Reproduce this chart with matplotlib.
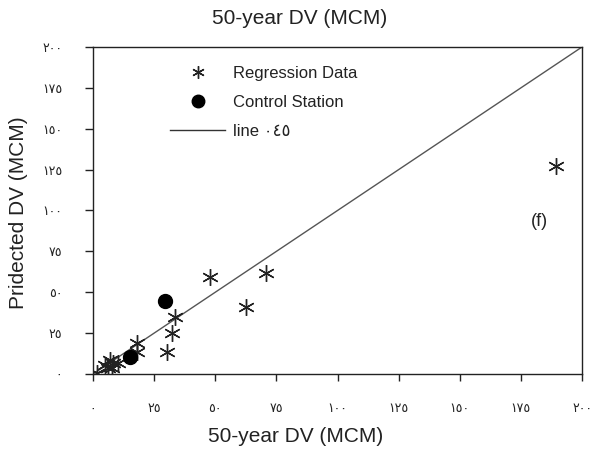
import matplotlib
matplotlib.use("Agg")
import matplotlib.pyplot as plt
from matplotlib.lines import Line2D

# ---- data ----
reg_x = [1.5, 4.9, 6.2, 6.9, 7.8, 8.3, 10.3, 17.8, 18.2, 30.1, 32.4, 33.5, 47.8, 62.7, 70.9, 189.5]
reg_y = [0.4, 5.5, 3.5, 8.6, 3.7, 6.5, 6.5, 13.6, 18.8, 13.6, 24.9, 35.0, 59.5, 40.8, 62.0, 127.2]
ctrl_x = [15.1, 29.4]
ctrl_y = [10.6, 44.8]
line_x = [0, 200]
line_y = [0, 200]
tick_vals = [0, 25, 50, 75, 100, 125, 150, 175, 200]
tick_labels = ["٠", "٢٥", "٥٠", "٧٥", "١٠٠", "١٢٥", "١٥٠", "١٧٥", "٢٠٠"]

plt.rcParams['font.family'] = ['Liberation Sans', 'DejaVu Sans']

fig = plt.figure(figsize=(5.93, 4.51), dpi=100)
ax = fig.add_axes([93/593, 1-374/451, (582-93)/593, (374-47)/451])

ax.plot(line_x, line_y, color='#555555', lw=1.0, zorder=2)
ax.plot(reg_x, reg_y, ls='none', marker=(6, 2, 0), ms=12, mew=1.0,
        color='#222222', zorder=3)
ax.plot(ctrl_x, ctrl_y, ls='none', marker='o', ms=10, color='black', zorder=4)

ax.set_xlim(0, 200)
ax.set_ylim(0, 200)
ax.set_xticks(tick_vals)
ax.set_xticklabels(tick_labels, family=['DejaVu Sans'], fontsize=9)
ax.set_yticks(tick_vals)
ax.set_yticklabels(tick_labels, family=['DejaVu Sans'], fontsize=9)
ax.tick_params(axis='x', direction='out', length=5, width=1, pad=15.5, colors='#222222')
ax.tick_params(axis='y', direction='out', length=6, width=1, pad=16, colors='#222222')
for s in ax.spines.values():
    s.set_linewidth(1.0)
    s.set_color('#222222')

ax.text(182.5, 93, '(f)', fontsize=13, ha='center', va='center', color='#222222')

handles = [
    Line2D([], [], ls='none', marker=(6, 2, 0), ms=9, mew=1.0, color='#222222'),
    Line2D([], [], ls='none', marker='o', ms=9, color='black'),
    Line2D([], [], color='#333333', lw=1.0),
]
labels = ['Regression Data', 'Control Station', 'line ٠٤٥']
leg = ax.legend(handles, labels, loc='upper left',
                bbox_to_anchor=((170-93)/489, (374-66)/327),
                frameon=False, fontsize=12, handlelength=3.3, labelspacing=0.83,
                handletextpad=0.5, borderaxespad=0, borderpad=0)
for t in leg.get_texts():
    t.set_color('#222222')

fig.text(300/593, 1-18/451, '50-year DV (MCM)', fontsize=15, ha='center', va='center', color='#222222')
fig.text(296/593, 1-437/451, '50-year DV (MCM)', fontsize=15, ha='center', va='center', color='#222222')
fig.text(19/593, 1-213/451, 'Pridected DV (MCM)', fontsize=15, ha='center', va='center',
         rotation=90, color='#222222')

fig.savefig('out.png', dpi=100, facecolor='white')
